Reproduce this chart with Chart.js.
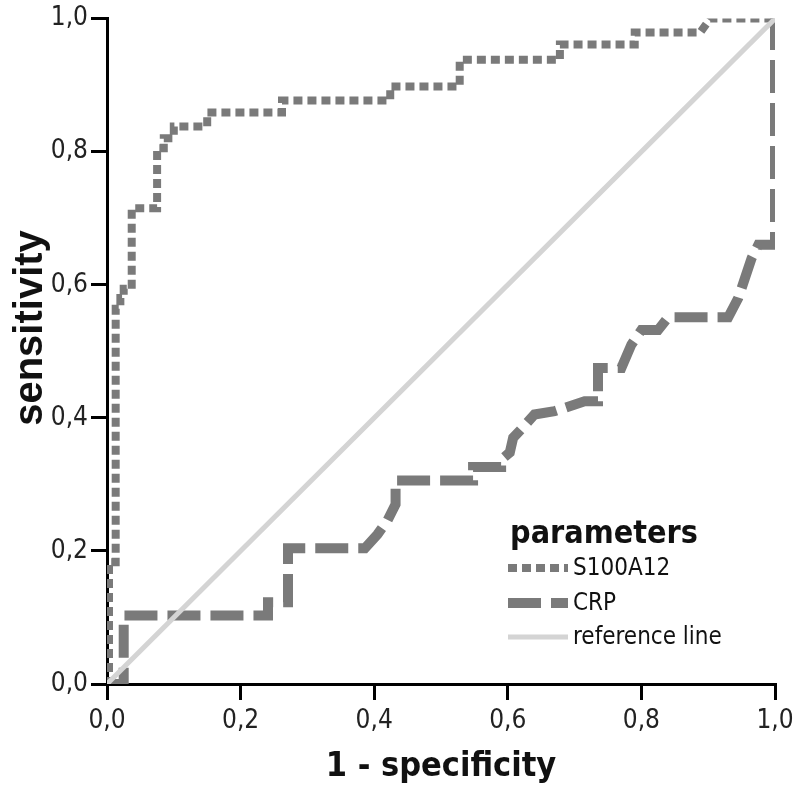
<!DOCTYPE html>
<html>
<head>
<meta charset="utf-8">
<script src="https://cdn.jsdelivr.net/npm/chart.js@4/dist/chart.umd.min.js"></script>
<style>
  html, body { margin: 0; padding: 0; background: #fff; }
</style>
</head>
<body>
<canvas id="rocChart" width="800" height="793"></canvas>
<script>
// --- data ---
const seriesNames = ['S100A12', 'CRP', 'reference line'];

const s100Fpr = [0, 0.003, 0.003, 0.013, 0.013, 0.02, 0.02, 0.025, 0.025, 0.037, 0.037, 0.075, 0.075, 0.085, 0.085, 0.1, 0.1, 0.15, 0.15, 0.262, 0.262, 0.424, 0.424, 0.528, 0.528, 0.678, 0.678, 0.79, 0.79, 0.888, 0.903, 1];
const s100Tpr = [0, 0, 0.183, 0.183, 0.564, 0.564, 0.58, 0.58, 0.594, 0.594, 0.715, 0.715, 0.805, 0.805, 0.82, 0.82, 0.838, 0.838, 0.859, 0.859, 0.877, 0.877, 0.898, 0.898, 0.938, 0.938, 0.961, 0.961, 0.979, 0.979, 1, 1];

const crpFpr = [0, 0.025, 0.025, 0.241, 0.241, 0.271, 0.271, 0.386, 0.405, 0.42, 0.432, 0.432, 0.548, 0.548, 0.59, 0.59, 0.603, 0.608, 0.622, 0.64, 0.67, 0.715, 0.735, 0.735, 0.77, 0.785, 0.8, 0.825, 0.84, 0.93, 0.945, 0.955, 0.965, 0.975, 1, 1];
const crpTpr = [0, 0, 0.103, 0.103, 0.123, 0.123, 0.204, 0.204, 0.225, 0.246, 0.27, 0.306, 0.306, 0.326, 0.326, 0.337, 0.348, 0.37, 0.385, 0.405, 0.41, 0.425, 0.425, 0.475, 0.475, 0.51, 0.532, 0.532, 0.551, 0.551, 0.58, 0.61, 0.64, 0.66, 0.66, 1];

const refFpr = [0, 1];
const refTpr = [0, 1];

const tickValues = [0, 0.2, 0.4, 0.6, 0.8, 1.0];

const toPoints = (xs, ys) => xs.map((x, i) => ({ x: x, y: ys[i] }));
const fmt = v => v.toFixed(1).replace('.', ',');

const narrow = "'Liberation Sans Narrow', 'DejaVu Sans Condensed', sans-serif";
const regular = "'Liberation Sans', Arial, sans-serif";

// --- legend inside the plot (bottom right) + the y title, which sits a bit above centre ---
const rocLegend = {
    id: 'rocLegend',
    afterDatasetsDraw(chart) {
        const ctx = chart.ctx;
        ctx.save();
        ctx.fillStyle = '#111';
        ctx.textBaseline = 'middle';
        ctx.textAlign = 'center';
        ctx.font = 'bold 32px ' + narrow;
        ctx.fillText('parameters', 604, 535);

        ctx.font = '24px ' + narrow;
        ctx.textAlign = 'left';
        const rows = [568, 603, 637];
        seriesNames.forEach((name, i) => {
            const ds = chart.data.datasets.find(d => d.label === name);
            const y = rows[i];
            ctx.save();
            ctx.strokeStyle = ds.borderColor;
            ctx.lineWidth = ds.borderWidth;
            ctx.setLineDash(ds.borderDash || []);
            ctx.lineCap = 'butt';
            ctx.beginPath();
            ctx.moveTo(508, y);
            ctx.lineTo(568, y);
            ctx.stroke();
            ctx.restore();
            ctx.fillText(name, 573, y + 1);
        });

        // y axis title
        ctx.translate(31, 328);
        ctx.rotate(-Math.PI / 2);
        ctx.textAlign = 'center';
        ctx.font = 'bold 40px ' + regular;
        ctx.fillText('sensitivity', 0, 0);
        ctx.restore();
    }
};

const ctx = document.getElementById('rocChart').getContext('2d');
new Chart(ctx, {
    type: 'scatter',
    data: {
        datasets: [
            {
                label: 'reference line',
                data: toPoints(refFpr, refTpr),
                showLine: true, borderColor: '#d4d4d4', borderWidth: 5,
                pointRadius: 0, order: 0
            },
            {
                label: 'S100A12',
                data: toPoints(s100Fpr, s100Tpr),
                showLine: true, borderColor: '#7a7a7a', borderWidth: 8,
                borderDash: [9, 5], pointRadius: 0, order: 1
            },
            {
                label: 'CRP',
                data: toPoints(crpFpr, crpTpr),
                showLine: true, borderColor: '#7a7a7a', borderWidth: 10,
                borderDash: [33, 10], pointRadius: 0, order: 2
            }
        ]
    },
    options: {
        responsive: false,
        animation: false,
        layout: { padding: { top: 17, right: 25, left: 0, bottom: 0 } },
        plugins: { legend: { display: false }, tooltip: { enabled: false } },
        scales: {
            x: {
                type: 'linear', min: 0, max: 1,
                afterBuildTicks: axis => { axis.ticks = tickValues.map(v => ({ value: v })); },
                afterFit: axis => { axis.height = 109; },
                grid: { drawOnChartArea: false, color: '#000', lineWidth: 3, tickLength: 16 },
                border: { color: '#000', width: 3 },
                ticks: { color: '#222', padding: 6, maxRotation: 0, font: { family: narrow, size: 26 }, callback: v => fmt(v) },
                title: { display: true, text: '1 - specificity', color: '#111', padding: { top: 0, bottom: 5 }, font: { family: narrow, size: 34, weight: 'bold' } }
            },
            y: {
                type: 'linear', min: 0, max: 1,
                afterBuildTicks: axis => { axis.ticks = tickValues.map(v => ({ value: v })); },
                afterFit: axis => { axis.width = 107; },
                grid: { drawOnChartArea: false, color: '#000', lineWidth: 3, tickLength: 16 },
                border: { color: '#000', width: 3 },
                ticks: { color: '#222', padding: 3, font: { family: narrow, size: 26 }, callback: v => fmt(v) }
            }
        }
    },
    plugins: [rocLegend]
});
</script>
</body>
</html>
